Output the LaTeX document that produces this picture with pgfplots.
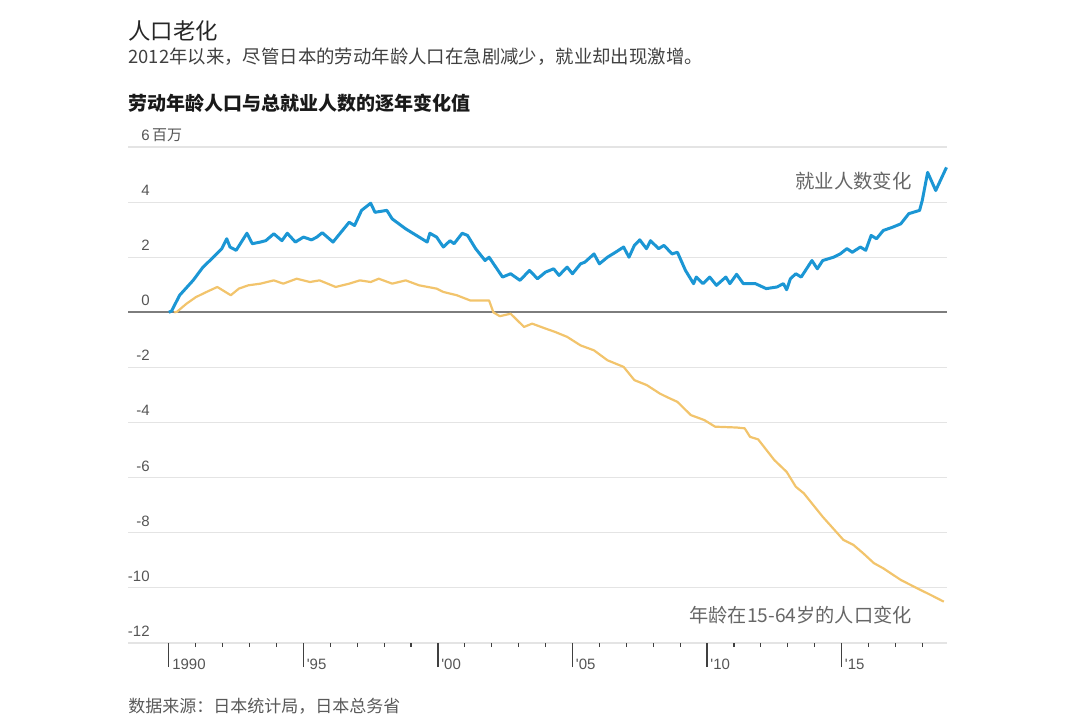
\documentclass[border=0pt]{standalone}
\usepackage{fontspec}
\setmainfont{Noto Sans CJK SC}
\newfontfamily\numfont{Liberation Sans}
\usepackage{pgfplots}
\pgfplotsset{compat=1.18}
\definecolor{empblue}{RGB}{27,150,212}
\definecolor{popgold}{RGB}{242,196,108}
\definecolor{gridgray}{RGB}{228,228,228}
\definecolor{zerogray}{RGB}{125,125,125}
\definecolor{labgray}{RGB}{85,85,85}

\begin{document}
\begin{tikzpicture}
\path (0,0) rectangle (540pt,361pt);
\begin{axis}[
  at={(64pt,39.5pt)}, anchor=south west,
  scale only axis, width=409.5pt, height=248pt,
  xmin=1988.48, xmax=2018.92, ymin=-12, ymax=6,
  clip=false,
  axis line style={draw=none},
  tick align=outside, xtick pos=bottom,
  xtick={1990,1995,2000,2005,2010,2015},
  xticklabels={1990,\textquotesingle95,\textquotesingle00,\textquotesingle05,\textquotesingle10,\textquotesingle15},
  minor xtick={1991,1992,1993,1994,1996,1997,1998,1999,2001,2002,2003,2004,2006,2007,2008,2009,2011,2012,2013,2014,2016,2017,2018},
  major tick length=12pt, minor tick length=2pt,
  xtick style={draw=black!75, line width=0.6pt},
  minor tick style={draw=black!75, line width=0.5pt},
  ytick={-12,-10,...,6},
  yticklabels={-12,-10,-8,-6,-4,-2,0,2,4,6\rlap{\,\rmfamily 百万}},
  ytick style={draw=none},
  ymajorgrids, major grid style={gridgray, line width=0.6pt},
  tick label style={font=\numfont\fontsize{7.5}{8}\selectfont, text=labgray},
  yticklabel style={anchor=base east, inner sep=0pt, xshift=23pt, yshift=3.3pt},
  xticklabel style={anchor=base west, inner sep=0pt, xshift=1.5pt, yshift=-1pt},
  /pgf/number format/assume math mode=true,
]
\draw[zerogray, line width=1pt] (axis cs:1988.48,0) -- (axis cs:2018.92,0);

\addplot[popgold, line width=1.1pt, line join=round] coordinates {
(1990.2,0) (1990.3,0.02) (1990.65,0.31) (1991.0,0.55) (1991.4,0.74) (1991.8,0.92)
(1992.0,0.8) (1992.3,0.62) (1992.6,0.86) (1992.95,0.98) (1993.4,1.04) (1993.9,1.16)
(1994.25,1.04) (1994.75,1.22) (1995.24,1.1) (1995.6,1.16) (1996.2,0.92) (1996.7,1.04)
(1997.1,1.16) (1997.5,1.1) (1997.8,1.22) (1998.3,1.04) (1998.8,1.16) (1999.3,0.98)
(1999.95,0.86) (2000.2,0.74) (2000.7,0.62) (2001.2,0.43) (2001.56,0.43) (2001.9,0.43)
(2002.06,0.0) (2002.3,-0.14) (2002.7,-0.05) (2003.2,-0.53) (2003.5,-0.41) (2004.0,-0.59)
(2004.35,-0.71) (2004.8,-0.89) (2005.3,-1.2) (2005.8,-1.38) (2006.3,-1.74) (2006.9,-1.98)
(2007.3,-2.46) (2007.76,-2.64) (2008.25,-2.95) (2008.5,-3.07) (2008.9,-3.25) (2009.4,-3.73)
(2009.9,-3.91) (2010.3,-4.15) (2011.1,-4.18) (2011.4,-4.21) (2011.6,-4.52) (2011.9,-4.61)
(2012.5,-5.36) (2012.96,-5.79) (2013.3,-6.33) (2013.6,-6.57) (2014.3,-7.42) (2015.07,-8.26)
(2015.44,-8.44) (2015.8,-8.74) (2016.2,-9.1) (2016.55,-9.29) (2017.2,-9.71) (2017.8,-10.01)
(2018.3,-10.25) (2018.8,-10.5)
};

\addplot[empblue, line width=1.5pt, line join=round] coordinates {
(1990.0,0) (1990.1,0.05) (1990.4,0.62) (1990.9,1.16) (1991.26,1.63) (1991.65,2.0)
(1991.96,2.3) (1992.15,2.67) (1992.27,2.37) (1992.5,2.25) (1992.9,2.87) (1993.1,2.49)
(1993.4,2.55) (1993.6,2.6) (1993.9,2.85) (1994.2,2.6) (1994.4,2.87) (1994.7,2.55)
(1995.0,2.73) (1995.3,2.63) (1995.5,2.73) (1995.7,2.89) (1996.1,2.55) (1996.4,2.91)
(1996.7,3.27) (1996.9,3.15) (1997.16,3.7) (1997.5,3.96) (1997.66,3.63) (1998.1,3.7)
(1998.3,3.39) (1998.8,3.03) (1999.2,2.79) (1999.6,2.55) (1999.7,2.87) (1999.95,2.73)
(2000.2,2.37) (2000.45,2.6) (2000.6,2.49) (2000.9,2.87) (2001.1,2.79) (2001.4,2.31)
(2001.75,1.88) (2001.9,2.0) (2002.4,1.28) (2002.7,1.4) (2003.05,1.16) (2003.4,1.52)
(2003.7,1.22) (2004.0,1.46) (2004.3,1.58) (2004.5,1.34) (2004.8,1.64) (2005.0,1.4)
(2005.3,1.76) (2005.46,1.82) (2005.8,2.12) (2006.0,1.76) (2006.3,2.0) (2006.6,2.18)
(2006.9,2.37) (2007.1,2.0) (2007.3,2.43) (2007.5,2.63) (2007.75,2.31) (2007.9,2.6)
(2008.2,2.31) (2008.4,2.43) (2008.7,2.12) (2008.9,2.18) (2009.2,1.52) (2009.5,1.04)
(2009.6,1.28) (2009.85,1.04) (2010.1,1.28) (2010.35,0.98) (2010.7,1.28) (2010.85,1.04)
(2011.1,1.38) (2011.35,1.04) (2011.8,1.04) (2012.2,0.86) (2012.6,0.92) (2012.84,1.04)
(2012.96,0.82) (2013.1,1.22) (2013.3,1.4) (2013.5,1.28) (2013.9,1.88) (2014.1,1.58)
(2014.3,1.88) (2014.7,2.0) (2014.95,2.12) (2015.2,2.31) (2015.4,2.18) (2015.7,2.37)
(2015.9,2.25) (2016.1,2.79) (2016.3,2.67) (2016.55,2.97) (2016.9,3.09) (2017.2,3.21)
(2017.5,3.58) (2017.9,3.7) (2018.0,4.06) (2018.2,5.08) (2018.5,4.42) (2018.9,5.26)
};
\end{axis}

% titles and notes
\node[anchor=west, inner sep=0pt, text=black!85, font=\fontsize{11.2}{13}\selectfont] at (64pt,345.5pt) {人口老化};
\node[anchor=west, inner sep=0pt, text=black!75, font=\fontsize{9.2}{11}\selectfont] at (64pt,332.5pt) {2012年以来，尽管日本的劳动年龄人口在急剧减少，就业却出现激增。};
\node[anchor=west, inner sep=0pt, text=black!90, font=\bfseries\fontsize{9.5}{11}\selectfont] at (64pt,309.5pt) {劳动年龄人口与总就业人数的逐年变化值};
\node[anchor=east, inner sep=0pt, text=black!60, font=\fontsize{9.7}{11}\selectfont] at (456pt,270.5pt) {就业人数变化};
\node[anchor=east, inner sep=0pt, text=black!60, font=\fontsize{9.6}{11}\selectfont] at (456pt,53.5pt) {年龄在15-64岁的人口变化};
\node[anchor=west, inner sep=0pt, text=black!65, font=\fontsize{8.5}{10}\selectfont] at (64pt,8pt) {数据来源：日本统计局，日本总务省};
\end{tikzpicture}
\end{document}
